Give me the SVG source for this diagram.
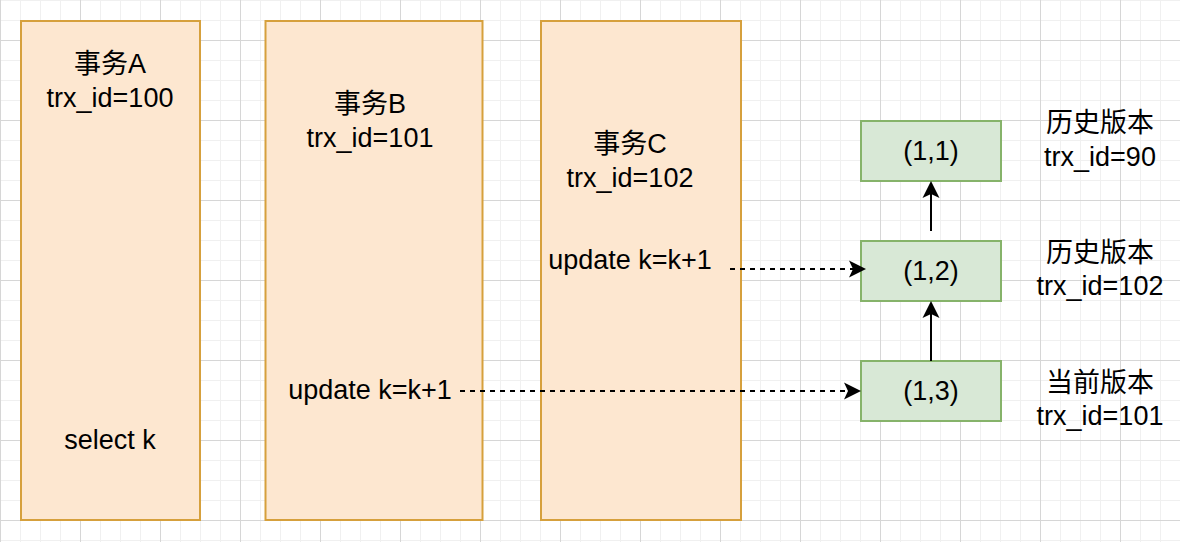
<svg xmlns="http://www.w3.org/2000/svg" width="1180" height="542" viewBox="0 0 1180 542">
<style>
  .tx { fill: #fde7d0; stroke: #d6a03c; stroke-width: 2; }
  .ver { fill: #d8e8d6; stroke: #86b36a; stroke-width: 2; }
  text { font-family: "Liberation Sans", "Noto Sans CJK SC", Arial, sans-serif; font-size: 27px; fill: #000; text-anchor: middle; }
  .edge { fill: none; stroke: #000; stroke-width: 2; }
  .dash { stroke-dasharray: 5 5; }
</style>
<defs>
  <pattern id="minor" patternUnits="userSpaceOnUse" x="0" y="0" width="20" height="20">
    <path d="M0 0h20v1h-20z M0 0h1v20h-1z" fill="#f0f0f0"/>
  </pattern>
  <pattern id="major" patternUnits="userSpaceOnUse" x="0" y="40" width="80" height="80">
    <path d="M0 0h80v1h-80z M0 0h1v80h-1z" fill="#d6d6d6"/>
  </pattern>
  <marker id="arrow" viewBox="-8 -9.5 19 19" refX="0" refY="0" markerWidth="19" markerHeight="19" markerUnits="userSpaceOnUse" orient="auto">
    <path d="M10,0 L-7,-8.5 L-3,0 L-7,8.5 Z" fill="#000"/>
  </marker>
</defs>
<rect width="1180" height="542" fill="#ffffff"/>
<rect width="1180" height="542" fill="url(#minor)"/>
<rect width="1180" height="542" fill="url(#major)"/>

<g id="txA">
  <rect class="tx" x="21" y="21" width="179" height="499"/>
  <text x="110" y="73">事务A</text>
  <text x="110" y="107">trx_id=100</text>
  <text x="110" y="449">select k</text>
</g>
<g id="txB">
  <rect class="tx" x="265.5" y="21" width="217" height="499"/>
  <text x="370" y="113">事务B</text>
  <text x="370" y="147">trx_id=101</text>
  <text x="370" y="399">update k=k+1</text>
</g>
<g id="txC">
  <rect class="tx" x="541" y="21" width="200" height="499"/>
  <text x="630" y="153">事务C</text>
  <text x="630" y="187">trx_id=102</text>
  <text x="630" y="269">update k=k+1</text>
</g>

<g id="v11">
  <rect class="ver" x="861" y="121" width="140" height="60"/>
  <text x="931" y="160">(1,1)</text>
</g>
<g id="v12">
  <rect class="ver" x="861" y="241" width="140" height="60"/>
  <text x="931" y="280">(1,2)</text>
</g>
<g id="v13">
  <rect class="ver" x="861" y="361" width="140" height="60"/>
  <text x="931" y="400">(1,3)</text>
</g>

<g id="labels">
  <text x="1100" y="132">历史版本</text>
  <text x="1100" y="166">trx_id=90</text>
  <text x="1100" y="262">历史版本</text>
  <text x="1100" y="295">trx_id=102</text>
  <text x="1100" y="392">当前版本</text>
  <text x="1100" y="425">trx_id=101</text>
</g>

<g id="connectors">
  <path class="edge dash" d="M730 269 H856" marker-end="url(#arrow)"/>
  <path class="edge dash" d="M460 391 H851" marker-end="url(#arrow)"/>
  <path class="edge" d="M931 231 V191" marker-end="url(#arrow)"/>
  <path class="edge" d="M931 361 V311" marker-end="url(#arrow)"/>
</g>
</svg>
